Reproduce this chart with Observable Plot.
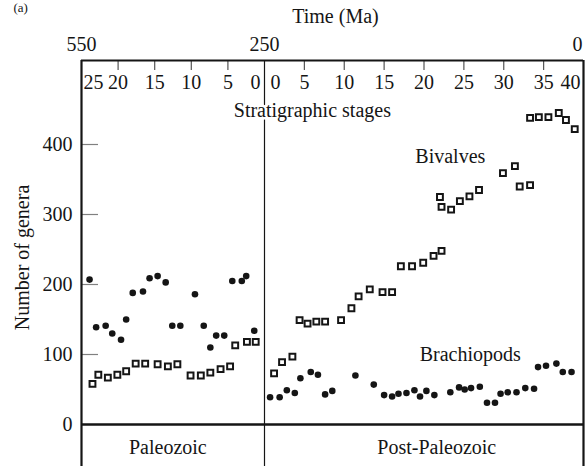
<!DOCTYPE html>
<html><head><meta charset="utf-8">
<script src="https://cdn.jsdelivr.net/npm/d3@7"></script>
<script src="https://cdn.jsdelivr.net/npm/@observablehq/plot@0.6"></script>
<style>
html,body{margin:0;padding:0;background:#fff;}
#chart{width:585px;height:466px;overflow:hidden;}
</style></head><body><div id="chart"></div>
<script>
// ---- Data (stage positions; left panel = Paleozoic stages counted back from 25 to 0)
const paleoBrachStage = [23.9,23.0,21.7,20.8,19.6,18.9,18.0,16.6,15.7,14.6,13.5,12.6,11.5,9.5,8.3,7.4,6.6,5.5,4.4,3.1,2.5,1.4];
const paleoBrachGenera = [207,139,141,130,121,150,188,190,209,212,203,141,141,186,141,110,127,127,205,205,212,134];
const paleoBivStage = [23.5,22.7,21.4,20.1,18.9,17.6,16.3,14.6,13.2,11.9,10.1,8.7,7.4,6.0,4.7,4.0,2.4,1.2];
const paleoBivGenera = [58,71,67,71,76,87,87,86,83,86,70,70,74,79,83,113,118,118];

const postBrachStage = [0.7,1.9,2.8,3.8,4.5,5.8,6.7,7.6,8.5,11.4,13.7,15.0,16.0,16.8,17.8,18.8,19.5,20.3,21.3,23.3,24.4,25.1,25.9,27.0,27.9,28.9,29.6,30.5,31.6,32.7,33.8,34.3,35.3,36.6,37.4,38.5];
const postBrachGenera = [39,39,49,45,66,75,71,43,48,70,57,42,40,44,45,49,40,48,42,46,53,50,52,54,31,31,44,46,46,52,51,82,84,87,75,75];
const postBivStage = [1.2,2.2,3.5,4.4,5.4,6.5,7.6,9.6,10.9,11.8,13.2,14.8,16.0,17.1,18.5,19.9,21.2,22.2,22.0,22.2,23.4,24.5,25.7,26.9,29.9,31.4,32.0,33.3,33.3,34.4,35.6,36.9,37.8,38.9];
const postBivGenera = [73,89,97,149,144,147,147,149,166,183,193,189,189,226,226,231,241,248,325,311,307,319,326,335,359,369,340,342,438,439,439,445,435,422];

// ---- Axis / label content
const yTicks = [0,100,200,300,400];
const yLabel = "Number of genera";
const paleoStageLabels = [25,20,15,10,5,0];
const postStageLabels = [0,5,10,15,20,25,30,35,40];
const timeLabels = [{x:-25, t:"550"}, {x:0, t:"250"}];
const timeEndLabel = "0";
const eras = [{x:-13.2, t:"Paleozoic"}, {x:21.6, t:"Post-Paleozoic"}];
const seriesLabels = [{x:23.3, y:374, t:"Bivalves"}, {x:25.8, y:91, t:"Brachiopods"}];

// signed position: Paleozoic stages to the left of 0, post-Paleozoic to the right
const pts = (st, v, sign) => st.map((s,i) => ({x: sign*s, y: v[i]}));
const bivalves = [...pts(paleoBivStage, paleoBivGenera, -1), ...pts(postBivStage, postBivGenera, 1)];
const brachs = [...pts(paleoBrachStage, paleoBrachGenera, -1), ...pts(postBrachStage, postBrachGenera, 1)];

const W = 585, H = 466, mL = 81, mR = 2, mT = 60, mB = 42;
const ink = "#151515";
const stageTicks = [...paleoStageLabels.filter(d => d>0 && d<25).map(d=>-d), ...postStageLabels.filter(d => d>0 && d<40)];

const chart = Plot.plot({
  width: W, height: H,
  marginLeft: mL, marginRight: mR, marginTop: mT, marginBottom: mB,
  style: {fontFamily: "'Liberation Serif', serif", fontSize: "20px", color: ink, background: "white"},
  x: {type: "linear", domain: [-25, 0, 40], range: [mL, 264, W - mR], axis: null},
  y: {type: "linear", domain: [0, 520], axis: null},
  marks: [
    // y ticks (inward) and labels
    Plot.ruleY(yTicks.filter(d => d > 0), {y: d => d, stroke: "#808080", strokeWidth: 1.2, insetRight: (W - mR) - (mL + 17)}),
    Plot.text(yTicks, {y: d => d, text: d => String(d), frameAnchor: "left", dx: -9, textAnchor: "end", lineAnchor: "middle", fill: ink}),
    Plot.text([yLabel], {x: -25, y: 238.6, text: d => d, dx: -53, rotate: -90, lineAnchor: "bottom", fill: ink}),
    // stage ticks at top
    Plot.ruleX(stageTicks, {x: d => d, stroke: "#555", strokeWidth: 1.2, insetBottom: (H - mB - mT) - 10}),
    // stage labels
    Plot.text(paleoStageLabels.filter(d => d>0 && d<25), {x: d => -d, text: d => String(d), frameAnchor: "top", dy: 28, lineAnchor: "bottom", fill: ink}),
    Plot.text(postStageLabels.filter(d => d>0 && d<40), {x: d => d, text: d => String(d), frameAnchor: "top", dy: 28, lineAnchor: "bottom", fill: ink}),
    Plot.text([25], {x: d => -d, text: d => String(d), frameAnchor: "top", dy: 28, dx: 2, textAnchor: "start", lineAnchor: "bottom", fill: ink}),
    Plot.text([0], {x: 0, text: d => String(d), frameAnchor: "top", dy: 28, dx: -4, textAnchor: "end", lineAnchor: "bottom", fill: ink}),
    Plot.text([0], {x: 0, text: d => String(d), frameAnchor: "top", dy: 28, dx: 6, textAnchor: "start", lineAnchor: "bottom", fill: ink}),
    Plot.text([40], {x: 40, text: d => String(d), frameAnchor: "top", dy: 28, dx: -3, textAnchor: "end", lineAnchor: "bottom", fill: ink}),
    // panel lines
    Plot.ruleX([0], {x: d => d, stroke: ink, strokeWidth: 1.2, insetBottom: -mB}),
    Plot.ruleX([-25, 40], {x: d => d, stroke: ink, strokeWidth: 2.2, insetBottom: -mB}),
    Plot.ruleY([520], {y: d => d, stroke: ink, strokeWidth: 2.2}),
    Plot.ruleY([0], {y: d => d, stroke: ink, strokeWidth: 2.6}),
    Plot.text(["Stratigraphic stages"], {x: 6, y: 440, text: d => d, lineAnchor: "bottom", fill: ink, stroke: "white", strokeWidth: 5}),
    // time axis above the frame
    Plot.text(timeLabels, {x: "x", text: "t", frameAnchor: "top", dy: -10, lineAnchor: "bottom", fill: ink}),
    Plot.text([timeEndLabel], {x: 40, text: d => d, frameAnchor: "top", dy: -10, dx: -1, textAnchor: "end", lineAnchor: "bottom", fill: ink}),
    Plot.text(["Time (Ma)"], {x: 8.9, text: d => d, frameAnchor: "top", dy: -38, lineAnchor: "bottom", fill: ink}),
    Plot.text(["(a)"], {x: -25, text: d => d, frameAnchor: "top", dx: -68, dy: -49, textAnchor: "start", lineAnchor: "bottom", fontSize: 13, fill: ink}),
    // era labels under the zero line
    Plot.text(eras, {x: "x", text: "t", frameAnchor: "bottom", dy: 29, lineAnchor: "bottom", fill: ink}),
    // series
    Plot.dot(bivalves, {x: "x", y: "y", symbol: "square", r: 3.3, fill: "white", stroke: ink, strokeWidth: 2}),
    Plot.dot(brachs, {x: "x", y: "y", r: 3.3, fill: ink, stroke: "none"}),
    Plot.text(seriesLabels, {x: "x", y: "y", text: "t", lineAnchor: "bottom", fill: ink})
  ]
});
document.getElementById("chart").appendChild(chart);
</script>
</body></html>
